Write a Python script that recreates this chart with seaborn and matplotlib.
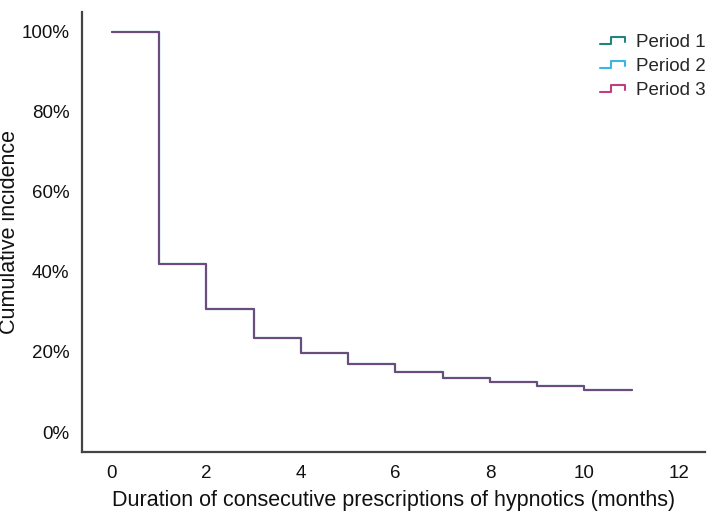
import numpy as np
import pandas as pd
import seaborn as sns
import matplotlib.pyplot as plt
from matplotlib.legend_handler import HandlerLine2D
from matplotlib.lines import Line2D
from matplotlib.ticker import PercentFormatter

# --- dados ---
meses = [0, 1, 2, 3, 4, 5, 6, 7, 8, 9, 10, 11]
incidencia = [100, 42, 30.8, 23.4, 19.8, 17.0, 15.1, 13.6, 12.4, 11.4, 10.6, 10.4]
periodos = ['Period 1', 'Period 2', 'Period 3']
cores_legenda = ['#23837f', '#3ab5e8', '#bd3f7d']
# as três curvas se sobrepõem; a cor visível é a mistura
cores_linha = ['#23837f', '#3ab5e8', '#6b4c7c']

df = pd.concat([pd.DataFrame({'mes': meses, 'inc': incidencia, 'periodo': p}) for p in periodos],
               ignore_index=True)


class HandlerDegrau(HandlerLine2D):
    def create_artists(self, legend, orig_handle, xdescent, ydescent, width, height, fontsize, trans):
        x0, y0 = -xdescent, -ydescent
        xs = [x0, x0 + 0.45 * width, x0 + 0.45 * width, x0 + width, x0 + width]
        ys = [y0 + 0.2 * height, y0 + 0.2 * height, y0 + 0.75 * height, y0 + 0.75 * height, y0 + 0.4 * height]
        ln = Line2D(xs, ys, color=orig_handle.get_color(), lw=1.5, transform=trans)
        return [ln]


sns.set_theme(style="white")
plt.rcParams['font.family'] = ['Liberation Sans', 'DejaVu Sans']

fig = plt.figure(figsize=(7.09, 5.15), dpi=100)
ax = fig.add_axes([0.1157, 0.1223, 0.8787, 0.855])

sns.lineplot(data=df, x='mes', y='inc', hue='periodo', palette=cores_linha,
             drawstyle='steps-post', linewidth=1.5, legend=False, ax=ax)

ax.set_xlim(-0.63, 12.55)
ax.set_ylim(-5, 105)
ax.set_xticks([0, 2, 4, 6, 8, 10, 12])
ax.set_yticks([0, 20, 40, 60, 80, 100])
ax.yaxis.set_major_formatter(PercentFormatter(decimals=0))
ax.tick_params(axis='both', length=0, labelsize=13.5, colors='#111111', pad=9)

for s in ['top', 'right']:
    ax.spines[s].set_visible(False)
for s in ['left', 'bottom']:
    ax.spines[s].set_color('#444444')
    ax.spines[s].set_linewidth(1.6)

ax.set_xlabel('Duration of consecutive prescriptions of hypnotics (months)', fontsize=15.5, color='#111111', labelpad=6)
ax.set_ylabel('Cumulative incidence', fontsize=15.5, color='#111111')
ax.yaxis.set_label_coords(-0.1, 0.5)

handles = [Line2D([], [], color=c) for c in cores_legenda]
ax.legend(handles, periodos, loc='upper right', bbox_to_anchor=(1.0, 0.94),
          bbox_transform=fig.transFigure, frameon=False, fontsize=13.5,
          handlelength=1.35, handletextpad=0.6, labelspacing=0.37, borderpad=0,
          borderaxespad=0.15, handler_map={Line2D: HandlerDegrau()})

fig.savefig('out.png', dpi=100)
